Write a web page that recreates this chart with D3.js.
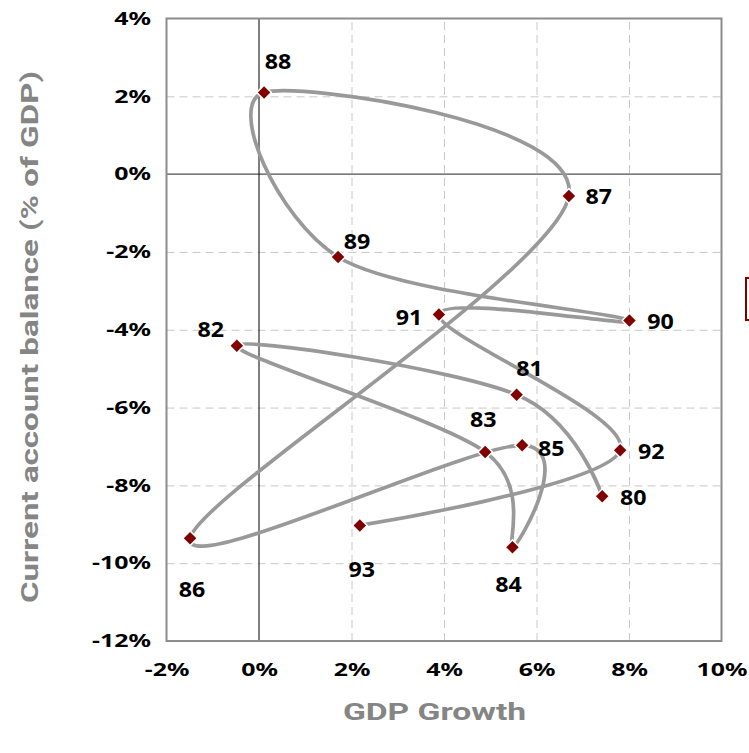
<!DOCTYPE html>
<html>
<head>
<meta charset="utf-8">
<script src="https://d3js.org/d3.v7.min.js"></script>
<style>
body { margin: 0; background: #fff; }
svg { display: block; }
.grid line { stroke: #c8c8c8; stroke-dasharray: 8,5; }
.grid .domain { display: none; }
.ticklbl .domain { display: none; }
.ticklbl text { font-family: "Noto Sans", sans-serif; font-weight: bold; font-size: 17.8px; fill: #000; }
.ptlbl { font-family: "Noto Sans", sans-serif; font-weight: bold; font-size: 21.5px; fill: #000; }
.axtitle { font-family: Roboto, sans-serif; font-weight: bold; font-size: 24px; fill: #858585; }
</style>
</head>
<body>
<svg id="chart"></svg>
<script>

// data, in year order (the path follows this order)
var years = ["80", "81", "82", "83", "84", "85", "86", "87", "88", "89", "90", "91", "92", "93"];
var gdpGrowth = [7.42, 5.57, -0.48, 4.89, 5.48, 5.69, -1.49, 6.70, 0.11, 1.71, 8.01, 3.89, 7.81, 2.18];
var currentAccount = [-8.28, -5.67, -4.41, -7.14, -9.59, -6.97, -9.36, -0.56, 2.10, -2.13, -3.76, -3.61, -7.10, -9.03];
var xTicks = [-2, 0, 2, 4, 6, 8, 10];
var yTicks = [-12, -10, -8, -6, -4, -2, 0, 2, 4];

var width = 749,
    height = 753;

var svg = d3.select("#chart")
    .attr("width", width)
    .attr("height", height);

var x = d3.scaleLinear().domain([-2, 10]).range([166.5, 721.5]);
var y = d3.scaleLinear().domain([-12, 4]).range([641, 18.5]);

var stretch = 1.4; // text in the original is drawn wide

var points = years.map(function(yr, i) {
  return { year: yr, gx: gdpGrowth[i], ca: currentAccount[i] };
});

// gridlines
svg.append("g")
    .attr("class", "grid")
    .attr("transform", "translate(0," + y(-12) + ")")
    .call(d3.axisBottom(x).tickValues(xTicks.filter(d => d != 0 && d != -2 && d != 10))
        .tickSize(-(y(-12) - y(4))).tickFormat(""));
svg.append("g")
    .attr("class", "grid")
    .attr("transform", "translate(" + x(-2) + ",0)")
    .call(d3.axisLeft(y).tickValues(yTicks.filter(d => d != 0 && d != -12 && d != 4))
        .tickSize(-(x(10) - x(-2))).tickFormat(""));

// zero lines
svg.append("line")
    .attr("x1", x(-2)).attr("x2", x(10))
    .attr("y1", y(0)).attr("y2", y(0))
    .attr("stroke", "#505050").attr("stroke-width", 1.2);
svg.append("line")
    .attr("x1", x(0)).attr("x2", x(0))
    .attr("y1", y(4)).attr("y2", y(-12))
    .attr("stroke", "#000").attr("stroke-width", 1);

// plot frame
svg.append("rect")
    .attr("x", x(-2)).attr("y", y(4))
    .attr("width", x(10) - x(-2)).attr("height", y(-12) - y(4))
    .attr("fill", "none").attr("stroke", "#8c8c8c").attr("stroke-width", 2);

// tick labels
var yAx = svg.append("g")
    .attr("class", "ticklbl")
    .attr("transform", "translate(151,0)")
    .call(d3.axisLeft(y).tickValues(yTicks).tickSize(0).tickPadding(0).tickFormat(d => d + "%"));
yAx.selectAll("text").attr("x", 0).attr("transform", "scale(" + stretch + ",1)");

var xAx = svg.append("g")
    .attr("class", "ticklbl")
    .attr("transform", "translate(0," + y(-12) + ")")
    .call(d3.axisBottom(x).tickValues(xTicks).tickSize(0).tickPadding(0).tickFormat(d => d + "%"));
xAx.selectAll("text").attr("y", 22).attr("transform", "scale(" + stretch + ",1)");

// path through the years
var line = d3.line()
    .x(d => x(d.gx))
    .y(d => y(d.ca))
    .curve(d3.curveCardinal.tension(0));

svg.append("path")
    .datum(points)
    .attr("d", line)
    .attr("fill", "none")
    .attr("stroke", "#999")
    .attr("stroke-width", 3.7)
    .attr("stroke-linejoin", "round");

// markers
svg.selectAll("path.mark")
    .data(points)
    .join("path")
    .attr("class", "mark")
    .attr("d", d3.symbol(d3.symbolSquare, 78))
    .attr("transform", d => "translate(" + x(d.gx) + "," + y(d.ca) + ") rotate(45)")
    .attr("fill", "#800000")
    .attr("stroke", "#fff")
    .attr("stroke-width", 3)
    .style("paint-order", "stroke");

// year labels, nudged off their markers
var labelNudge = {
  "80": [31, 1], "81": [13, -26], "82": [-26, -16], "83": [-2, -33],
  "84": [-4, 37], "85": [29, 3], "86": [2, 51], "87": [30, 0],
  "88": [14, -31], "89": [19, -16], "90": [31, 1], "91": [-30, 3],
  "92": [31, 1], "93": [2, 44]
};

svg.selectAll("text.ptlbl")
    .data(points)
    .join("text")
    .attr("class", "ptlbl")
    .attr("text-anchor", "middle")
    .attr("transform", d => "translate(" + (x(d.gx) + labelNudge[d.year][0]) + "," +
        (y(d.ca) + labelNudge[d.year][1] + 7.7) + ") scale(1.08,1)")
    .text(d => d.year);

// axis titles
svg.append("text")
    .attr("class", "axtitle")
    .attr("text-anchor", "middle")
    .attr("transform", "translate(434.5,720) scale(" + stretch + ",1)")
    .text("GDP Growth");

svg.append("text")
    .attr("class", "axtitle")
    .attr("text-anchor", "middle")
    .attr("transform", "translate(38,337) rotate(-90) scale(1.38,1)")
    .text("Current account balance (% of GDP)");

// legend box, mostly outside the picture
svg.append("rect")
    .attr("x", 746).attr("y", 278)
    .attr("width", 20).attr("height", 42)
    .attr("fill", "#fff")
    .attr("stroke", "#800000")
    .attr("stroke-width", 2);

</script>
</body>
</html>
